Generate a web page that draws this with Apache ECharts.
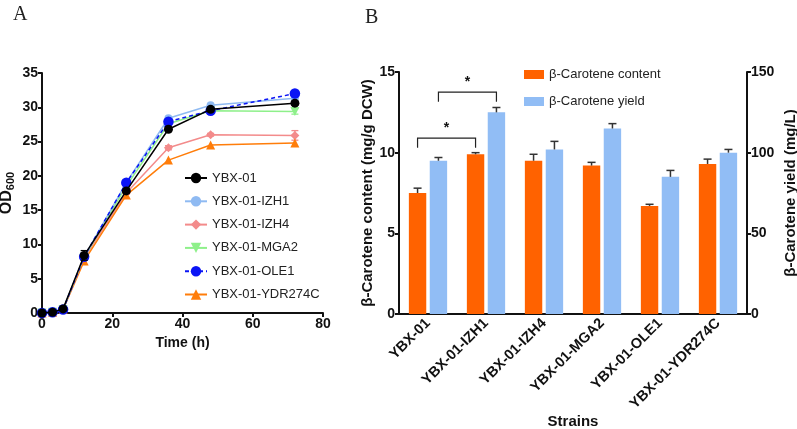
<!DOCTYPE html>
<html>
<head>
<meta charset="utf-8">
<script src="https://cdn.jsdelivr.net/npm/echarts@6/dist/echarts.min.js"></script>
<style>html,body{margin:0;padding:0;background:#fff}#c{width:797px;height:429px}</style>
</head>
<body>
<div id="c"></div>
<script>
// ---- Panel A data ----
const times = [0, 3, 6, 12, 24, 36, 48, 72];
const ybx01 = [0, 0.1, 0.6, 8.4, 17.8, 26.8, 29.7, 30.6];
const izh1 = [0, 0.1, 0.5, 8.2, 19.0, 28.4, 30.3, 31.3];
const izh4 = [0, 0.1, 0.5, 8.0, 17.5, 24.1, 26.0, 25.9];
const mga2 = [0, 0.1, 0.5, 8.1, 18.5, 27.6, 29.5, 29.4];
const ole1 = [0, 0.1, 0.5, 8.2, 19.0, 27.9, 29.5, 32.0];
const ydr274c = [0, 0.1, 0.5, 7.6, 17.2, 22.3, 24.5, 24.8];
const ybx01Err = [0, 0, 0.1, 0.7, 0.3, 0.3, 0.3, 0.3];
const izh4Err = [0, 0, 0, 0.2, 0.2, 0.3, 0.2, 0.7];
const mga2Err = [0, 0, 0, 0.2, 0.2, 0.2, 0.2, 0.4];
const odTicks = [0, 5, 10, 15, 20, 25, 30, 35];
const timeTicks = [0, 20, 40, 60, 80];

// ---- Panel B data ----
const strains = ['YBX-01', 'YBX-01-IZH1', 'YBX-01-IZH4', 'YBX-01-MGA2', 'YBX-01-OLE1', 'YBX-01-YDR274C'];
const contentVals = [7.5, 9.9, 9.5, 9.2, 6.7, 9.3];
const contentErr = [0.3, 0.1, 0.4, 0.2, 0.1, 0.3];
const yieldVals = [95, 125, 102, 115, 85, 100];
const yieldErr = [2, 3, 5, 3, 4, 2];
const contentTicks = [0, 5, 10, 15];
const yieldTicks = [0, 50, 100, 150];
// significance brackets: [from strain index, to strain index, level, drop]
const sigContent = [[0, 1, 10.9, 0.6]];
const sigYield = [[0, 1, 137.5, 6]];

const BOLD = {fontFamily: 'Arial, Liberation Sans, sans-serif', fontWeight: 'bold', color: '#111'};
const axisLine = {show: true, lineStyle: {color: '#111', width: 2}};

function zip(xs, ys) { return xs.map((x, i) => [x, ys[i]]); }
function zip3(xs, ys, es) { return xs.map((x, i) => [x, ys[i], es[i]]); }

function lineErr(color) {
  return function (params, api) {
    const x = api.value(0), v = api.value(1), e = api.value(2);
    if (!e) return;
    const hi = api.coord([x, v + e]);
    const lo = api.coord([x, v - e]);
    const s = {stroke: color, lineWidth: 1.3};
    return {type: 'group', children: [
      {type: 'line', shape: {x1: hi[0], y1: hi[1], x2: lo[0], y2: lo[1]}, style: s},
      {type: 'line', shape: {x1: hi[0] - 3.5, y1: hi[1], x2: hi[0] + 3.5, y2: hi[1]}, style: s},
      {type: 'line', shape: {x1: lo[0] - 3.5, y1: lo[1], x2: lo[0] + 3.5, y2: lo[1]}, style: s}
    ]};
  };
}

const BW = 0.3, GAP = 0.06;
function barOffset(side, band) { return side * (BW + GAP) / 2 * band; }

function barErr(side) {
  return function (params, api) {
    const x = api.value(0), v = api.value(1), e = api.value(2);
    const band = api.size([1, 0])[0];
    const dx = barOffset(side, band);
    const top = api.coord([x, v + e]);
    const base = api.coord([x, v]);
    const cx = top[0] + dx;
    const s = {stroke: '#333', lineWidth: 1.5};
    return {type: 'group', children: [
      {type: 'line', shape: {x1: cx, y1: top[1], x2: cx, y2: base[1]}, style: s},
      {type: 'line', shape: {x1: cx - 4, y1: top[1], x2: cx + 4, y2: top[1]}, style: s}
    ]};
  };
}

function bracket(side) {
  return function (params, api) {
    const a = api.value(0), b = api.value(1), lvl = api.value(2), drop = api.value(3);
    const band = api.size([1, 0])[0];
    const dx = barOffset(side, band);
    const pa = api.coord([a, lvl]), pb = api.coord([b, lvl]);
    const pl = api.coord([a, lvl - drop]);
    const x1 = pa[0] + dx, x2 = pb[0] + dx, y = pa[1], y2 = pl[1];
    const s = {stroke: '#222', lineWidth: 1.2};
    return {type: 'group', children: [
      {type: 'polyline', shape: {points: [[x1, y2], [x1, y], [x2, y], [x2, y2]]}, style: Object.assign({fill: null}, s)},
      {type: 'text', style: {text: '*', x: (x1 + x2) / 2, y: y - 3, align: 'center', verticalAlign: 'bottom',
        font: 'bold 14px Arial', fill: '#111'}}
    ]};
  };
}

const chart = echarts.init(document.getElementById('c'), null, {renderer: 'canvas'});

const lineDefs = [
  {name: 'YBX-01', data: ybx01, color: '#000000', symbol: 'circle', size: 9, z: 10},
  {name: 'YBX-01-IZH1', data: izh1, color: '#8fbaf2', symbol: 'circle', size: 8, z: 5},
  {name: 'YBX-01-IZH4', data: izh4, color: '#f38b8b', symbol: 'diamond', size: 9, z: 4},
  {name: 'YBX-01-MGA2', data: mga2, color: '#8ef08a', symbol: 'triangle', size: 9, z: 4, rotate: 180},
  {name: 'YBX-01-OLE1', data: ole1, color: '#0a14f5', symbol: 'circle', size: 10.5, z: 8, dashed: true},
  {name: 'YBX-01-YDR274C', data: ydr274c, color: '#ff7d0a', symbol: 'triangle', size: 9, z: 4}
];

const series = lineDefs.map(d => ({
  type: 'line', name: d.name, xAxisIndex: 0, yAxisIndex: 0,
  data: zip(times, d.data), symbol: d.symbol, symbolSize: d.size, symbolRotate: d.rotate || 0,
  z: d.z, color: d.color,
  lineStyle: {color: d.color, width: 1.5, type: d.dashed ? [4, 3] : 'solid'},
  itemStyle: {color: d.color}, emphasis: {disabled: true}, animation: false
}));

series.push(
  {type: 'custom', xAxisIndex: 0, yAxisIndex: 0, z: 9, renderItem: lineErr('#000'), data: zip3(times, ybx01, ybx01Err), animation: false},
  {type: 'custom', xAxisIndex: 0, yAxisIndex: 0, z: 3, renderItem: lineErr('#f38b8b'), data: zip3(times, izh4, izh4Err), animation: false},
  {type: 'custom', xAxisIndex: 0, yAxisIndex: 0, z: 3, renderItem: lineErr('#8ef08a'), data: zip3(times, mga2, mga2Err), animation: false}
);

series.push(
  {type: 'bar', name: 'β-Carotene content', xAxisIndex: 1, yAxisIndex: 1, data: contentVals,
    barWidth: (BW * 100) + '%', barGap: '20%', itemStyle: {color: '#ff6200'}, animation: false},
  {type: 'bar', name: 'β-Carotene yield', xAxisIndex: 1, yAxisIndex: 2, data: yieldVals,
    barWidth: (BW * 100) + '%', itemStyle: {color: '#91bdf5'}, animation: false},
  {type: 'custom', xAxisIndex: 1, yAxisIndex: 1, z: 5, renderItem: barErr(-1),
    data: strains.map((s, i) => [i, contentVals[i], contentErr[i]]), animation: false},
  {type: 'custom', xAxisIndex: 1, yAxisIndex: 2, z: 5, renderItem: barErr(1),
    data: strains.map((s, i) => [i, yieldVals[i], yieldErr[i]]), animation: false},
  {type: 'custom', xAxisIndex: 1, yAxisIndex: 1, z: 5, renderItem: bracket(-1), data: sigContent, animation: false},
  {type: 'custom', xAxisIndex: 1, yAxisIndex: 2, z: 5, renderItem: bracket(1), data: sigYield, animation: false}
);

chart.setOption({
  backgroundColor: '#fff',
  animation: false,
  title: [
    {text: 'A', left: 8, top: 0, textStyle: {fontFamily: 'Liberation Serif, Times New Roman, serif', fontWeight: 'normal', fontSize: 20, color: '#222'}},
    {text: 'B', left: 360, top: 3, textStyle: {fontFamily: 'Liberation Serif, Times New Roman, serif', fontWeight: 'normal', fontSize: 20, color: '#222'}}
  ],
  legend: [
    {data: lineDefs.map(d => d.name), orient: 'vertical', left: 179, top: 166.5, itemGap: 10.3,
      itemWidth: 22, itemHeight: 13, textStyle: {fontFamily: 'Arial, Liberation Sans, sans-serif', fontSize: 13, color: '#222'}},
    {data: ['β-Carotene content', 'β-Carotene yield'], orient: 'vertical', left: 519, top: 63, itemGap: 14,
      itemWidth: 20, itemHeight: 9, icon: 'rect', textStyle: {fontFamily: 'Arial, Liberation Sans, sans-serif', fontSize: 13, color: '#222'}}
  ],
  grid: [
    {left: 42, right: 474, top: 73, bottom: 116, containLabel: false, outerBoundsMode: 'none'},
    {left: 399, right: 50, top: 72, bottom: 115, containLabel: false, outerBoundsMode: 'none'}
  ],
  xAxis: [
    {type: 'value', gridIndex: 0, min: timeTicks[0], max: timeTicks[timeTicks.length - 1], interval: 20,
      name: 'Time (h)', nameLocation: 'middle', nameGap: 16, nameTextStyle: Object.assign({fontSize: 14}, BOLD),
      axisLine: axisLine, axisTick: {show: true, length: 4, lineStyle: {color: '#111', width: 2}},
      axisLabel: Object.assign({fontSize: 14, margin: 4}, BOLD), splitLine: {show: false}},
    {type: 'category', gridIndex: 1, data: strains,
      name: 'Strains', nameLocation: 'middle', nameGap: 100, nameMoveOverlap: false,
      nameTextStyle: Object.assign({fontSize: 15}, BOLD),
      axisLine: axisLine, axisTick: {show: false},
      axisLabel: Object.assign({fontSize: 14.5, rotate: 45, margin: 7, interval: 0}, BOLD)}
  ],
  yAxis: [
    {type: 'value', gridIndex: 0, min: odTicks[0], max: odTicks[odTicks.length - 1], interval: 5,
      name: '{a|OD}{b|600}', nameLocation: 'middle', nameGap: 26, nameRotate: 90,
      nameTextStyle: {rich: {
        a: Object.assign({fontSize: 16}, BOLD),
        b: Object.assign({fontSize: 11, verticalAlign: 'bottom', padding: [8, 0, 0, 0]}, BOLD)}},
      axisLine: axisLine, axisTick: {show: true, length: 4, lineStyle: {color: '#111', width: 2}},
      axisLabel: Object.assign({fontSize: 14, margin: 4}, BOLD), splitLine: {show: false}},
    {type: 'value', gridIndex: 1, min: contentTicks[0], max: contentTicks[contentTicks.length - 1], interval: 5,
      name: 'β-Carotene content (mg/g DCW)', nameLocation: 'middle', nameGap: 23, nameRotate: 90,
      nameTextStyle: Object.assign({fontSize: 15}, BOLD),
      axisLine: axisLine, axisTick: {show: true, length: 4, lineStyle: {color: '#111', width: 2}},
      axisLabel: Object.assign({fontSize: 14, margin: 4}, BOLD), splitLine: {show: false}},
    {type: 'value', gridIndex: 1, position: 'right', min: yieldTicks[0], max: yieldTicks[yieldTicks.length - 1], interval: 50,
      name: 'β-Carotene yield (mg/L)', nameLocation: 'middle', nameGap: 36, nameRotate: 90,
      nameTextStyle: Object.assign({fontSize: 15}, BOLD),
      axisLine: axisLine, axisTick: {show: true, length: 4, lineStyle: {color: '#111', width: 2}},
      axisLabel: Object.assign({fontSize: 14, margin: 4}, BOLD), splitLine: {show: false}}
  ],
  series: series
});
</script>
</body>
</html>
